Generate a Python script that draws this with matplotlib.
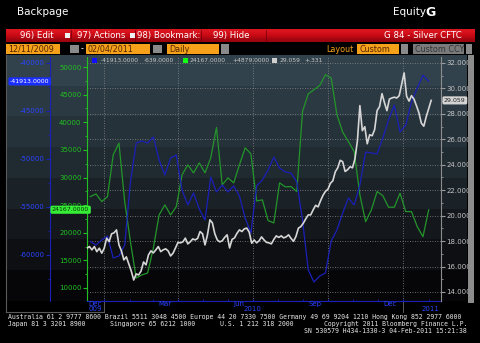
import numpy as np
import pandas as pd
import matplotlib
matplotlib.use("Agg")
import matplotlib.pyplot as plt
import matplotlib.dates as mdates
import matplotlib.transforms as mtransforms
from matplotlib.patches import Rectangle
from matplotlib.ticker import MultipleLocator, FormatStrFormatter

W, H = 480, 343

# weekly CFTC report values (Tuesdays)
cftc_dates = pd.date_range("2009-12-15", periods=60, freq="7D")
blue_pos = [-58594, -58959, -58438, -58021, -60313, -60105, -58959, -52400, -48334, -48125,
            -48334, -47709, -50104, -51667, -49896, -49584, -53230, -54792, -53542, -55209,
            -56355, -51875, -53438, -52709, -53438, -52813, -53855, -56146, -57709, -52813,
            -52188, -51146, -49792, -50938, -51355, -51459, -52396, -56355, -61563, -62813,
            -62188, -61876, -58542, -57396, -55626, -54063, -54792, -52709, -49271, -49375,
            -49479, -47813, -45938, -44375, -47188, -46459, -44063, -42604, -41274, -41913]
green_pos = [26540, 27030, 25640, 26540, 34100, 36220, 25640, 18390, 11810, 12360,
             12720, 17250, 23230, 25040, 23230, 24730, 30480, 32290, 30840, 32650,
             30840, 33560, 39050, 28660, 29930, 29030, 32290, 35370, 34280, 25760,
             25950, 22200, 21780, 29030, 28300, 28360, 27450, 41950, 45150, 45880,
             46660, 48600, 48000, 41350, 38210, 36510, 34700, 26850, 22010, 24130,
             27450, 26720, 24620, 24620, 27160, 23830, 23830, 21110, 19288, 24167]

# silver price, sampled every 3 days
silver_dates = pd.date_range("2009-12-11", periods=141, freq="3D")
silver = [17.44, 17.57, 17.31, 17.57, 17.17, 17.44, 17.05, 17.44, 18.23, 17.96,
          18.57, 18.65, 18.88, 17.70, 17.23, 16.52, 16.76, 16.20, 15.65, 14.94,
          15.42, 15.34, 15.65, 16.36, 16.13, 16.91, 17.23, 17.07, 17.31, 17.57,
          17.17, 17.31, 17.39, 17.23, 16.83, 17.05, 17.46, 17.90, 17.86, 17.94,
          18.23, 17.78, 17.94, 18.17, 18.09, 18.21, 18.75, 18.57, 17.70, 18.49,
          19.67, 19.43, 18.57, 18.09, 17.94, 18.02, 18.29, 18.49, 17.46, 18.13,
          18.25, 18.61, 18.88, 18.75, 18.96, 19.02, 18.69, 17.83, 18.09, 17.86,
          18.02, 18.33, 18.09, 17.90, 17.86, 17.78, 18.13, 18.41, 18.29, 18.41,
          18.25, 18.33, 18.49, 18.21, 17.98, 18.37, 19.02, 19.14, 19.41, 19.75,
          20.06, 20.06, 20.46, 20.81, 20.69, 21.17, 21.60, 21.91, 22.07, 22.54,
          22.74, 23.45, 23.76, 24.35, 24.24, 23.47, 23.61, 23.84, 23.76, 24.47,
          25.89, 28.65, 26.68, 26.99, 25.65, 26.36, 26.28, 26.76, 28.25, 28.57,
          29.59, 28.88, 28.25, 29.16, 29.25, 29.31, 29.25, 29.43, 30.34, 31.22,
          29.39, 29.00, 29.43, 29.16, 28.65, 28.09, 27.27, 27.03, 27.78, 28.41,
          29.059]

month_labels = [("2009-12-21", "Dec"), ("2010-03-16", "Mar"), ("2010-06-15", "Jun"),
                ("2010-09-15", "Sep"), ("2010-12-16", "Dec")]
year_labels = [("2009-12-21", "009"), ("2010-07-01", "2010"), ("2011-02-03", "2011")]

BLUE = "#1a20b8"
BLUE_TXT = "#2a44ff"
GREEN = "#23952a"
GREEN_TXT = "#22c022"
SILVER = "#d6d6d6"
ORANGE = "#f7a11a"


def fx(x):
    return x / W


def fy(y):
    return 1 - y / H


def box(x0, y0, x1, y1, color, z=1):
    fig.add_artist(Rectangle((fx(x0), fy(y1)), (x1 - x0) / W, (y1 - y0) / H,
                             transform=fig.transFigure, color=color, zorder=z, lw=0))


fig = plt.figure(figsize=(W / 100, H / 100), dpi=100, facecolor="black")

# header
fig.text(fx(17), fy(12), "Backpage", color="white", fontsize=7.5, va="center")
fig.text(fx(393), fy(12), "Equity", color="white", fontsize=7.5, va="center")
fig.text(fx(425), fy(12.5), "G", color="white", fontsize=9, fontweight="bold", va="center")

# red menu bar
bar = fig.add_axes([fx(6), fy(42), (475 - 6) / W, 13 / H])
red = np.array([[0.86, 0.08, 0.12], [0.78, 0.04, 0.08], [0.62, 0.02, 0.06]])
bar.imshow(red[:, None, :], aspect="auto", extent=(0, 1, 0, 1), interpolation="bilinear")
bar.axis("off")
for xs in [71, 135, 201, 266]:
    fig.add_artist(plt.Line2D([fx(xs), fx(xs)], [fy(30), fy(41)], color="#7a0010", lw=0.6))
for t, x in [("96) Edit", 20), ("97) Actions", 77), ("98) Bookmark:", 137), ("99) Hide", 213)]:
    fig.text(fx(x), fy(35.5), t, color="white", fontsize=6.2, va="center")
for x in [65, 130]:
    box(x, 33, x + 5, 38, "#f0f0f0", z=3)
fig.text(fx(462), fy(35.5), "G 84 - Silver CFTC", color="white", fontsize=6.2, va="center", ha="right")

# orange option row
DARK = "#4d2600"
box(6, 44, 60, 54, ORANGE)
fig.text(fx(8), fy(49), "12/11/2009", color=DARK, fontsize=5.8, va="center")
box(70, 45, 79, 53, "#8a8a8a")
fig.text(fx(81), fy(49), "-", color="white", fontsize=5.8, va="center")
box(86, 44, 150, 54, ORANGE)
fig.text(fx(88), fy(49), "02/04/2011", color=DARK, fontsize=5.8, va="center")
box(153, 45, 162, 53, "#8a8a8a")
box(167, 44, 219, 54, ORANGE)
fig.text(fx(169), fy(49), "Daily", color=DARK, fontsize=5.8, va="center")
box(221, 44, 229, 54, "#8a8a8a")
fig.text(fx(326), fy(49), "Layout", color=ORANGE, fontsize=5.8, va="center")
box(357, 44, 399, 54, ORANGE)
fig.text(fx(359), fy(49), "Custom", color=DARK, fontsize=5.8, va="center")
box(401, 44, 408, 54, "#8a8a8a")
box(413, 44, 464, 54, "#7a7a7a")
fig.text(fx(415), fy(49), "Custom CCY", color="#333333", fontsize=5.8, va="center")
box(466, 44, 472, 54, "#8a8a8a")

# chart panel background bands
bands = np.array([[50, 66, 76], [43, 57, 66], [38, 50, 58], [32, 42, 49], [26, 33, 39],
                  [20, 24, 29], [13, 15, 19], [6, 6, 9]]) / 255
bg = fig.add_axes([fx(6), fy(301), (467 - 6) / W, (301 - 55) / H])
bg.imshow(bands[:, None, :], aspect="auto", extent=(0, 1, 0, 1), interpolation="nearest")
bg.axis("off")
fig.add_artist(plt.Line2D([fx(6), fx(6)], [fy(55), fy(312)], color="#5a5a5a", lw=0.8))
fig.add_artist(plt.Line2D([fx(6), fx(104)], [fy(312), fy(312)], color="#5a5a5a", lw=0.8))
box(468, 55, 474, 303, "#8c8c8c")

# plot axes
pos = [fx(87), fy(301), (441 - 87) / W, (301 - 57) / H]
ax_grid = fig.add_axes(pos)
ax_g = fig.add_axes(pos, sharex=ax_grid)
ax_b = fig.add_axes(pos, sharex=ax_grid)
ax_s = fig.add_axes(pos, sharex=ax_grid)
for a in [ax_grid, ax_g, ax_b, ax_s]:
    a.set_facecolor("none")
    for sp in a.spines.values():
        sp.set_visible(False)

ax_grid.set_xlim(pd.Timestamp("2009-12-11"), pd.Timestamp("2011-02-16"))
ax_grid.xaxis.set_major_locator(mdates.MonthLocator(bymonth=[1, 4, 7, 10]))
ax_grid.xaxis.set_minor_locator(mdates.MonthLocator())

# grid on its own axes so it stays behind every line
ax_grid.set_ylim(13.29, 32.47)
ax_grid.yaxis.set_major_locator(MultipleLocator(2))
ax_grid.grid(True, color="#8a8a8a", linestyle=(0, (1, 2)), lw=0.6)
ax_grid.tick_params(which="both", length=0, labelbottom=False, labelleft=False)

# green series, left axis
ax_g.plot(cftc_dates, green_pos, color=GREEN, lw=0.9)
ax_g.set_ylim(7645, 51812)
ax_g.yaxis.set_major_locator(MultipleLocator(5000))
ax_g.yaxis.set_minor_locator(MultipleLocator(2500))
ax_g.yaxis.set_major_formatter(FormatStrFormatter("%d"))
ax_g.spines["left"].set_visible(True)
ax_g.spines["left"].set_color(GREEN_TXT)
ax_g.spines["bottom"].set_visible(True)
ax_g.spines["bottom"].set_color(BLUE)
ax_g.tick_params(axis="y", which="both", colors=GREEN_TXT, labelsize=5, pad=1)
ax_g.tick_params(axis="y", which="major", length=3)
ax_g.tick_params(axis="y", which="minor", length=1.5)
ax_g.tick_params(axis="x", which="both", colors=BLUE, length=1.5, direction="in", labelbottom=False)

# blue series, outer left axis
ax_b.plot(cftc_dates, blue_pos, color=BLUE, lw=0.9)
ax_b.set_ylim(-64792, -39375)
ax_b.yaxis.set_major_locator(MultipleLocator(5000))
ax_b.yaxis.set_minor_locator(MultipleLocator(2500))
ax_b.yaxis.set_major_formatter(FormatStrFormatter("%d"))
ax_b.spines["left"].set_visible(True)
ax_b.spines["left"].set_position(("outward", 26.6))
ax_b.spines["left"].set_color(BLUE)
ax_b.tick_params(axis="y", which="both", colors=BLUE, labelcolor=BLUE_TXT, labelsize=5, pad=1)
ax_b.tick_params(axis="y", which="major", length=3)
ax_b.tick_params(axis="y", which="minor", length=1.5)
ax_b.tick_params(axis="x", which="both", bottom=False, labelbottom=False)

# silver price, right axis
ax_s.plot(silver_dates, silver, color=SILVER, lw=1.2)
ax_s.set_ylim(13.29, 32.47)
ax_s.yaxis.tick_right()
ax_s.yaxis.set_major_locator(MultipleLocator(2))
ax_s.yaxis.set_minor_locator(MultipleLocator(1))
ax_s.yaxis.set_major_formatter(FormatStrFormatter("%.3f"))
ax_s.spines["right"].set_visible(True)
ax_s.spines["right"].set_color("#8c8c8c")
ax_s.tick_params(axis="y", which="both", colors="#9a9a9a", labelcolor="#c4c4c4", labelsize=5, pad=1)
ax_s.tick_params(axis="y", which="major", length=3)
ax_s.tick_params(axis="y", which="minor", length=1.5)
ax_s.tick_params(axis="x", which="both", bottom=False, labelbottom=False)

# date labels
xt = mtransforms.blended_transform_factory(ax_g.transData, ax_g.transAxes)
for d, t in month_labels:
    ax_g.text(pd.Timestamp(d), -0.013, t, transform=xt, ha="center", va="center",
              color=BLUE_TXT, fontsize=5, clip_on=False)
for d, t in year_labels:
    ax_g.text(pd.Timestamp(d), -0.034, t, transform=xt, ha="center", va="center",
              color=BLUE_TXT, fontsize=5, clip_on=False)
for d in ["2010-01-01", "2011-01-01"]:
    ax_g.plot([pd.Timestamp(d)] * 2, [0, -0.045], transform=xt, color="#6a6a6a",
              lw=0.6, clip_on=False)

# last value badges
tb = mtransforms.blended_transform_factory(fig.transFigure, ax_b.transData)
fig.text(fx(10), blue_pos[-1], "%.4f" % blue_pos[-1], transform=tb, color="white",
         fontsize=4.5, va="center", ha="left",
         bbox=dict(boxstyle="round,pad=0.25", fc="#1a2eff", ec="none"))
tg = mtransforms.blended_transform_factory(fig.transFigure, ax_g.transData)
fig.text(fx(52), green_pos[-1], "%.4f" % green_pos[-1], transform=tg, color="#063006",
         fontsize=4.5, va="center", ha="left",
         bbox=dict(boxstyle="round,pad=0.25", fc="#35ee35", ec="none"))
ts = mtransforms.blended_transform_factory(fig.transFigure, ax_s.transData)
fig.text(fx(444), silver[-1], "%.3f" % silver[-1], transform=ts, color="#202020",
         fontsize=4.5, va="center", ha="left",
         bbox=dict(boxstyle="round,pad=0.25", fc="#d4d4d4", ec="none"))

# legend row
for x, c in [(92, "#1010ff"), (183, "#10ff10"), (272, "#d0d0d0")]:
    box(x, 58, x + 5, 63, c, z=5)
leg_txt = [(101, "%.4f" % blue_pos[-1]), (144, "%.4f" % (blue_pos[-1] - blue_pos[-2])),
           (190, "%.4f" % green_pos[-1]), (232, "%+.4f" % (green_pos[-1] - green_pos[-2])),
           (279, "%.3f" % silver[-1]), (304, "+.331")]
for x, t in leg_txt:
    fig.text(fx(x), fy(60.5), t, color="#c8c8c8", fontsize=4.3, va="center", zorder=5)

# footer
MONO = "DejaVu Sans Mono"
FC = "#e6e6e6"
fig.text(fx(8), fy(317), "Australia 61 2 9777 8600 Brazil 5511 3048 4500 Europe 44 20 7330 7500 "
         "Germany 49 69 9204 1210 Hong Kong 852 2977 6000", family=MONO, fontsize=4.7,
         color=FC, va="center")
fig.text(fx(8), fy(324), "Japan 81 3 3201 8900", family=MONO, fontsize=4.7, color=FC, va="center")
fig.text(fx(110), fy(324), "Singapore 65 6212 1000", family=MONO, fontsize=4.7, color=FC, va="center")
fig.text(fx(220), fy(324), "U.S. 1 212 318 2000", family=MONO, fontsize=4.7, color=FC, va="center")
fig.text(fx(467), fy(324), "Copyright 2011 Bloomberg Finance L.P.", family=MONO, fontsize=4.7,
         color=FC, va="center", ha="right")
fig.text(fx(467), fy(331), "SN 530579 H434-1330-3 04-Feb-2011 15:21:38", family=MONO,
         fontsize=4.7, color=FC, va="center", ha="right")

fig.savefig("out.png", dpi=100, facecolor="black")
